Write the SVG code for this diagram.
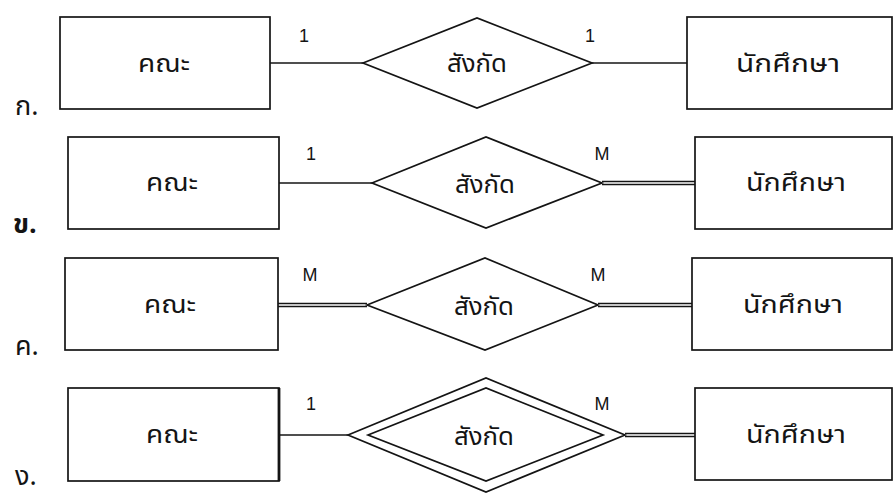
<svg xmlns="http://www.w3.org/2000/svg" width="893" height="496" viewBox="0 0 893 496">
  <style>
    .box { fill: #ffffff; stroke: #141414; stroke-width: 1.7; }
    .rel { fill: #ffffff; stroke: #141414; stroke-width: 1.7; }
    .ln { fill: none; stroke: #141414; stroke-width: 1.6; }
    .dbl { fill: none; stroke: #141414; stroke-width: 4.6; }
    .dbl-in { fill: none; stroke: #ffffff; stroke-width: 1.6; }
    .name { font-family: "Noto Sans Thai", "Tahoma", "Liberation Sans", "DejaVu Sans", sans-serif; font-size: 25px; fill: #141414; text-anchor: middle; }
    .card { font-family: "Liberation Sans", Arial, sans-serif; font-size: 18px; fill: #141414; text-anchor: middle; }
    .tag { font-family: "Noto Sans Thai", "Tahoma", "Liberation Sans", "DejaVu Sans", sans-serif; font-size: 27px; fill: #141414; }
  </style>
  <rect width="893" height="496" fill="#ffffff"/>

  <!-- connectors -->
  <g id="connectors">
    <!-- ก -->
    <line class="ln" x1="270" y1="63" x2="363" y2="63"/>
    <line class="ln" x1="592" y1="63" x2="687" y2="63"/>
    <!-- ข -->
    <line class="ln" x1="279" y1="183" x2="372" y2="183"/>
    <line class="dbl" x1="602" y1="183" x2="695" y2="183"/>
    <line class="dbl-in" x1="602" y1="183" x2="695" y2="183"/>
    <!-- ค -->
    <line class="dbl" x1="278" y1="305" x2="367" y2="305"/>
    <line class="dbl-in" x1="278" y1="305" x2="367" y2="305"/>
    <line class="dbl" x1="598" y1="305" x2="692" y2="305"/>
    <line class="dbl-in" x1="598" y1="305" x2="692" y2="305"/>
    <!-- ง -->
    <line class="ln" x1="279" y1="435" x2="348" y2="435"/>
    <line class="dbl" x1="625" y1="435" x2="695" y2="435"/>
    <line class="dbl-in" x1="625" y1="435" x2="695" y2="435"/>
  </g>

  <!-- row ก -->
  <text class="tag" x="15" y="115">ก.</text>
  <g id="faculty-a">
    <rect class="box" x="60" y="17" width="210" height="92"/>
    <text class="name" x="164" y="72" textLength="52" lengthAdjust="spacingAndGlyphs">คณะ</text>
  </g>
  <g id="belongs-a">
    <polygon class="rel" points="363,63 477,18 592,63 477,108"/>
    <text class="name" x="477" y="72" textLength="60" lengthAdjust="spacingAndGlyphs">สังกัด</text>
  </g>
  <g id="student-a">
    <rect class="box" x="687" y="17" width="205" height="92"/>
    <text class="name" x="788" y="72" textLength="104" lengthAdjust="spacingAndGlyphs">นักศึกษา</text>
  </g>
  <text class="card" x="304" y="42">1</text>
  <text class="card" x="590" y="42">1</text>

  <!-- row ข -->
  <text class="tag" x="13" y="233" font-weight="bold">ข.</text>
  <g id="faculty-b">
    <rect class="box" x="68" y="137" width="211" height="92"/>
    <text class="name" x="172" y="191" textLength="52" lengthAdjust="spacingAndGlyphs">คณะ</text>
  </g>
  <g id="belongs-b">
    <polygon class="rel" points="372,183 486,137 602,183 486,228"/>
    <text class="name" x="485" y="193" textLength="60" lengthAdjust="spacingAndGlyphs">สังกัด</text>
  </g>
  <g id="student-b">
    <rect class="box" x="695" y="137" width="197" height="92"/>
    <text class="name" x="796" y="191" textLength="100" lengthAdjust="spacingAndGlyphs">นักศึกษา</text>
  </g>
  <text class="card" x="311" y="160">1</text>
  <text class="card" x="602" y="160">M</text>

  <!-- row ค -->
  <text class="tag" x="15" y="355">ค.</text>
  <g id="faculty-c">
    <rect class="box" x="65" y="258" width="213" height="92"/>
    <text class="name" x="170" y="313" textLength="52" lengthAdjust="spacingAndGlyphs">คณะ</text>
  </g>
  <g id="belongs-c">
    <polygon class="rel" points="367,305 485,258 598,305 485,350"/>
    <text class="name" x="484" y="315" textLength="60" lengthAdjust="spacingAndGlyphs">สังกัด</text>
  </g>
  <g id="student-c">
    <rect class="box" x="692" y="258" width="200" height="92"/>
    <text class="name" x="793" y="313" textLength="100" lengthAdjust="spacingAndGlyphs">นักศึกษา</text>
  </g>
  <text class="card" x="310" y="281">M</text>
  <text class="card" x="598" y="281">M</text>

  <!-- row ง -->
  <text class="tag" x="15" y="485" font-size="25">ง.</text>
  <g id="faculty-d">
    <rect class="box" x="68" y="388" width="211" height="93"/>
    <line x1="279" y1="388" x2="279" y2="481" stroke="#141414" stroke-width="2.8"/>
    <text class="name" x="172" y="443" textLength="52" lengthAdjust="spacingAndGlyphs">คณะ</text>
  </g>
  <g id="belongs-d">
    <polygon class="rel" points="348,435 486,378 625,435 486,492"/>
    <polygon class="rel" points="368,435 486,388 603,435 486,481"/>
    <text class="name" x="484" y="445" textLength="60" lengthAdjust="spacingAndGlyphs">สังกัด</text>
  </g>
  <g id="student-d">
    <rect class="box" x="695" y="388" width="197" height="92"/>
    <text class="name" x="796" y="443" textLength="100" lengthAdjust="spacingAndGlyphs">นักศึกษา</text>
  </g>
  <text class="card" x="311" y="410">1</text>
  <text class="card" x="602" y="410">M</text>
</svg>
